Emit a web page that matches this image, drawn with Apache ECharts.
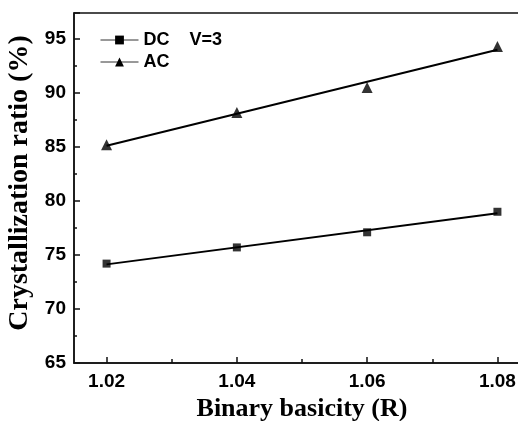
<!DOCTYPE html>
<html>
<head>
<meta charset="utf-8">
<script src="https://cdn.jsdelivr.net/npm/echarts@6/dist/echarts.min.js"></script>
<style>
  html, body { margin: 0; padding: 0; background: #fff; }
  #chart { width: 518px; height: 421px; }
</style>
</head>
<body>
<div id="chart"></div>
<script>
// data
const basicity = [1.02, 1.04, 1.06, 1.08];
const dcRatio = [74.2, 75.7, 77.1, 79.0];
const acRatio = [85.2, 88.2, 90.5, 94.3];
// straight fitted lines, ends at 1.02 and 1.08
const fitX = [1.02, 1.08];
const dcFit = [74.13, 78.87];
const acFit = [85.11, 93.99];
const xMajor = [1.02, 1.04, 1.06, 1.08];
const xMinor = [1.03, 1.05, 1.07];

const pairs = (xs, ys) => xs.map((x, i) => [x, ys[i]]);

const tickFont = { fontFamily: 'Liberation Sans', fontWeight: 'bold', fontSize: 19, color: '#000' };
const titleFont = { fontFamily: 'Liberation Serif', fontWeight: 'bold', color: '#000' };

const myChart = echarts.init(document.getElementById('chart'));
const option = {
    animation: false,
    backgroundColor: '#fff',
    grid: {
        left: 74, top: 13, bottom: 58, right: -12,
        outerBoundsMode: 'none', containLabel: false,
        show: true, borderColor: '#111', borderWidth: 1.5
    },
    legend: {
        orient: 'vertical',
        left: 100, top: 31, padding: 0,
        itemWidth: 38, itemHeight: 11, itemGap: 4,
        data: ['DC', 'AC'],
        formatter: name => name === 'DC' ? 'DC    V=3' : name,
        textStyle: Object.assign({}, tickFont, { fontSize: 18 }),
        lineStyle: { width: 1, color: '#333' },
        itemStyle: { color: '#000' }
    },
    xAxis: [{
        type: 'value', min: 1.015, max: 1.085,
        name: 'Binary basicity (R)', nameLocation: 'middle', nameGap: 25,
        nameTextStyle: Object.assign({}, titleFont, { fontSize: 26 }),
        axisLine: { lineStyle: { color: '#111', width: 1.5 } },
        axisTick: { inside: true, length: 6, customValues: xMajor, lineStyle: { color: '#111', width: 1.5 } },
        axisLabel: Object.assign({ customValues: xMajor, margin: 9, formatter: v => v.toFixed(2) }, tickFont),
        splitLine: { show: false }
    }, {
        type: 'value', min: 1.015, max: 1.085, position: 'bottom',
        axisLine: { show: false },
        axisTick: { inside: true, length: 4, customValues: xMinor, lineStyle: { color: '#111', width: 1.5 } },
        axisLabel: { show: false },
        splitLine: { show: false }
    }],
    yAxis: {
        type: 'value', min: 65, max: 97.4, interval: 5,
        name: 'Crystallization ratio (%)', nameLocation: 'middle', nameGap: 37,
        nameTextStyle: Object.assign({ padding: [0, 0, 0, 10] }, titleFont, { fontSize: 28 }),
        axisLine: { show: true, lineStyle: { color: '#111', width: 1.5 } },
        axisTick: { inside: true, length: 6, lineStyle: { color: '#111', width: 1.5 } },
        minorTick: { show: true, splitNumber: 2, length: 3, lineStyle: { color: '#111', width: 1.5 } },
        axisLabel: Object.assign({ margin: 8, showMaxLabel: false }, tickFont),
        splitLine: { show: false }
    },
    series: [
        {
            name: 'DC', type: 'line', data: pairs(fitX, dcFit),
            symbol: 'rect', showSymbol: false, symbolSize: 8,
            lineStyle: { color: '#000', width: 2 }, itemStyle: { color: '#000' }
        },
        {
            name: 'AC', type: 'line', data: pairs(fitX, acFit),
            symbol: 'triangle', showSymbol: false, symbolSize: 9,
            lineStyle: { color: '#000', width: 2 }, itemStyle: { color: '#000' }
        },
        {
            name: 'DC points', type: 'scatter', data: pairs(basicity, dcRatio),
            symbol: 'rect', symbolSize: 8, itemStyle: { color: '#000' }
        },
        {
            name: 'AC points', type: 'scatter', data: pairs(basicity, acRatio),
            symbol: 'triangle', symbolSize: 11, itemStyle: { color: '#000' }
        }
    ]
};

myChart.setOption(option);
</script>
</body>
</html>
